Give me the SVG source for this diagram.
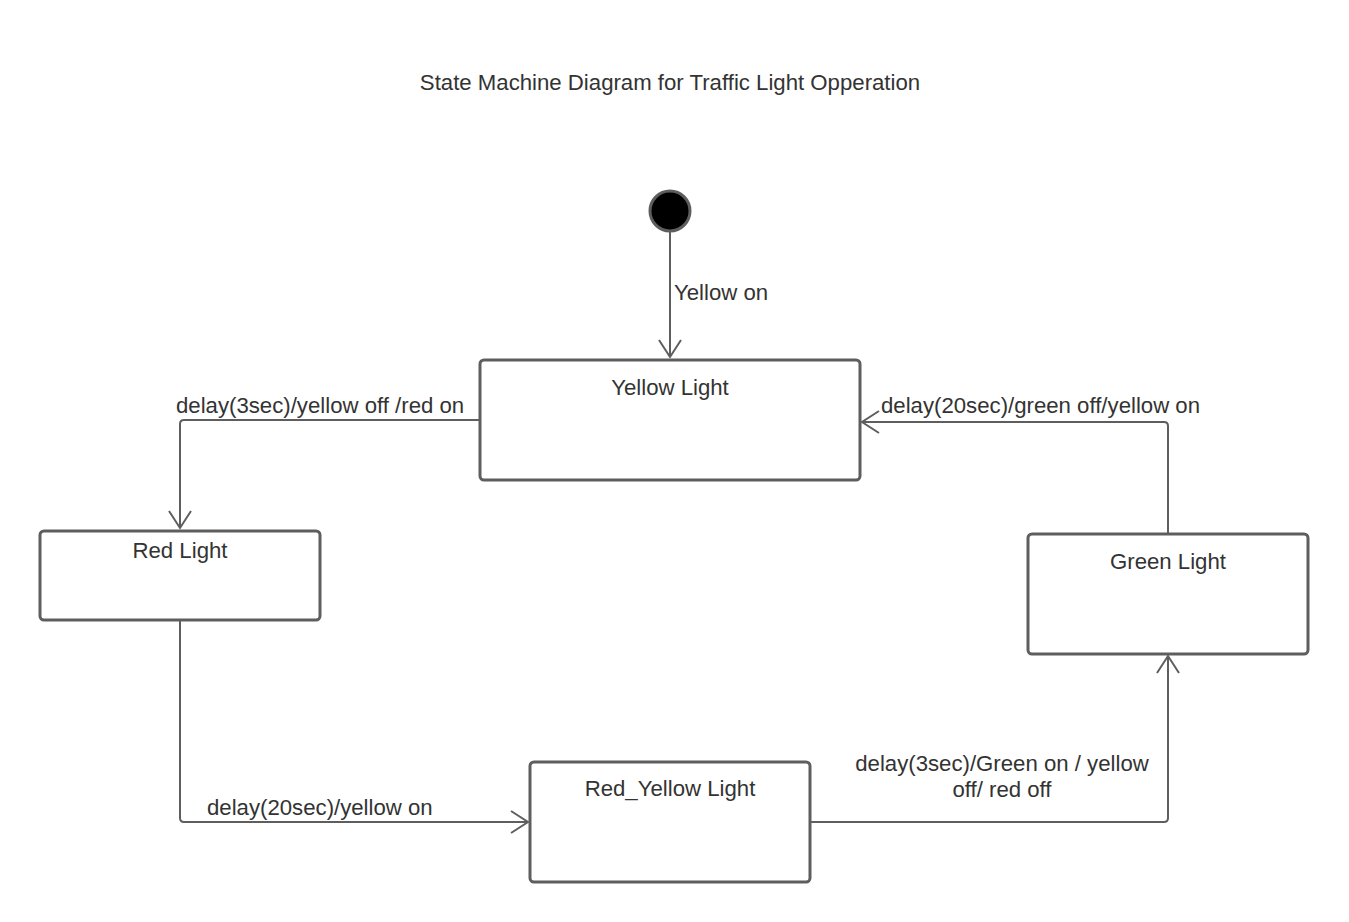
<svg xmlns="http://www.w3.org/2000/svg" width="1349" height="922" viewBox="0 0 1349 922">
<defs>
<style>
.node{fill:#fff;stroke:#5e5e5e;stroke-width:3}
.edge{fill:none;stroke:#5e5e5e;stroke-width:2}
.t{font-family:"Liberation Sans",Arial,sans-serif;font-size:22.2px;fill:#333}
.c{text-anchor:middle}
</style>
<marker id="arr" viewBox="0 0 20 24" refX="18" refY="12" markerWidth="20" markerHeight="24" markerUnits="userSpaceOnUse" orient="auto">
<path d="M1,1 L18,12 L1,23" fill="none" stroke="#5e5e5e" stroke-width="2"/>
</marker>
</defs>
<rect width="1349" height="922" fill="#fff"/>
<text class="t c" x="670" y="90">State Machine Diagram for Traffic Light Opperation</text>
<g id="connectors">
<path class="edge" d="M670,231 L670,357" marker-end="url(#arr)"/>
<path class="edge" d="M480,420 L184,420 Q180,420 180,424 L180,528" marker-end="url(#arr)"/>
<path class="edge" d="M180,620 L180,818 Q180,822 184,822 L528,822" marker-end="url(#arr)"/>
<path class="edge" d="M810,822 L1164,822 Q1168,822 1168,818 L1168,656" marker-end="url(#arr)"/>
<path class="edge" d="M1168,534 L1168,426 Q1168,422 1164,422 L862,422" marker-end="url(#arr)"/>
<text class="t" x="674" y="300">Yellow on</text>
<text class="t" x="176" y="413">delay(3sec)/yellow off /red on</text>
<text class="t" x="881" y="413">delay(20sec)/green off/yellow on</text>
<text class="t" x="207" y="815">delay(20sec)/yellow on</text>
<text class="t c" x="1002" y="771">delay(3sec)/Green on / yellow</text>
<text class="t c" x="1002" y="797">off/ red off</text>
</g>
<g id="start"><circle cx="670" cy="211" r="20" fill="#000" stroke="#5e5e5e" stroke-width="3"/></g>
<g id="yellow"><rect class="node" x="480" y="360" width="380" height="120" rx="4"/><text class="t c" x="670" y="395">Yellow Light</text></g>
<g id="red"><rect class="node" x="40" y="531" width="280" height="89" rx="4"/><text class="t c" x="180" y="558">Red Light</text></g>
<g id="green"><rect class="node" x="1028" y="534" width="280" height="120" rx="4"/><text class="t c" x="1168" y="569">Green Light</text></g>
<g id="redyellow"><rect class="node" x="530" y="762" width="280" height="120" rx="4"/><text class="t c" x="670" y="796">Red_Yellow Light</text></g>
</svg>
